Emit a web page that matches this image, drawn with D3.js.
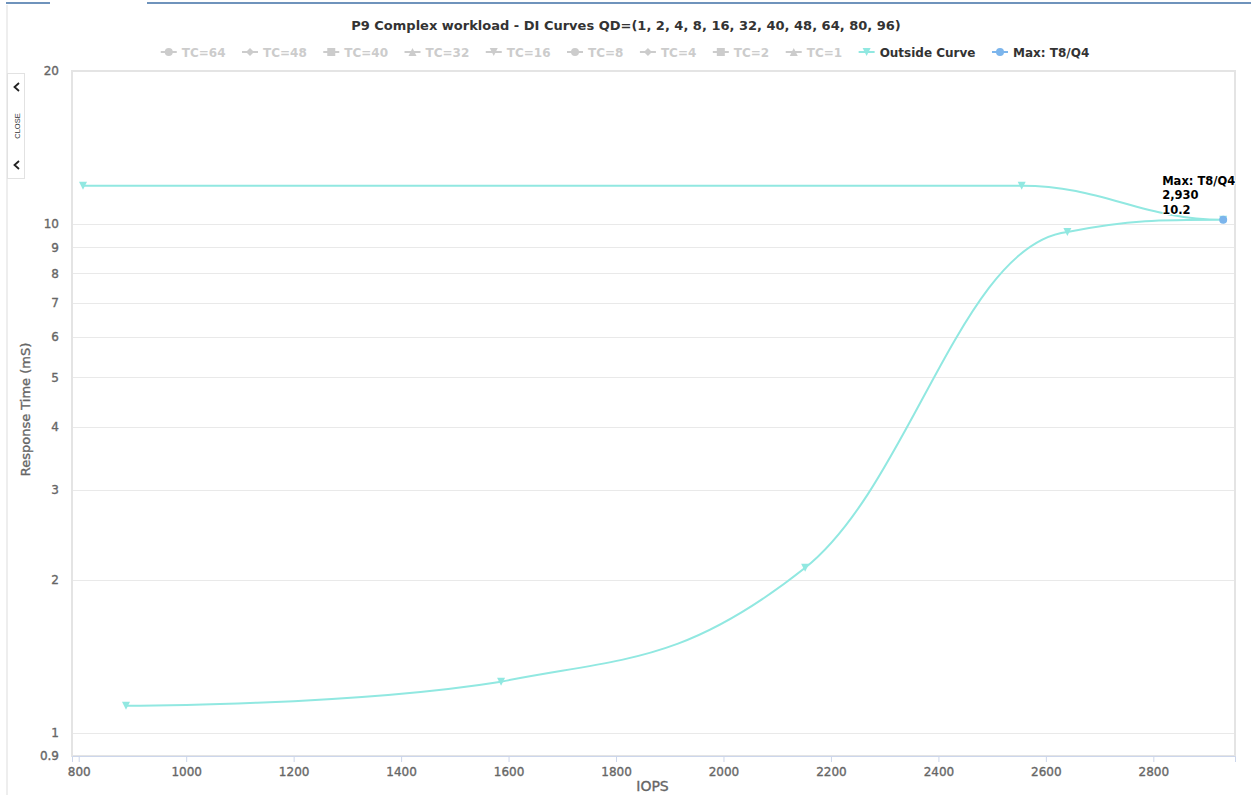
<!DOCTYPE html>
<html>
<head>
<meta charset="utf-8">
<script src="https://cdn.jsdelivr.net/npm/d3@7/dist/d3.min.js"></script>
<style>
  html, body { margin: 0; padding: 0; background: #fff; overflow: hidden; }
  svg { display: block; font-family: "DejaVu Sans", Verdana, sans-serif; }
</style>
</head>
<body>
<svg id="chart" width="1251" height="795"></svg>
<script>
// ---- data ----
const chartTitle = "P9 Complex workload - DI Curves QD=(1, 2, 4, 8, 16, 32, 40, 48, 64, 80, 96)";
const seriesNames = ["TC=64", "TC=48", "TC=40", "TC=32", "TC=16", "TC=8", "TC=4", "TC=2", "TC=1", "Outside Curve", "Max: T8/Q4"];
const seriesVisible = [false, false, false, false, false, false, false, false, false, true, true];
const outsideIOPS = [888, 1586, 2152, 2640, 2930, 2555, 808];
const outsideRT   = [1.13, 1.26, 2.11, 9.65, 10.2, 11.9, 11.9];
const maxIOPS = [2930];
const maxRT   = [10.2];
const maxName = "Max: T8/Q4";
const xTicks = [800, 1000, 1200, 1400, 1600, 1800, 2000, 2200, 2400, 2600, 2800];
const yTicks = [0.9, 1, 2, 3, 4, 5, 6, 7, 8, 9, 10, 20];
const xTitle = "IOPS";
const yTitle = "Response Time (mS)";

// ---- look ----
const palette = ["#7cb5ec", "#434348", "#90ed7d", "#f7a35c", "#8085e9", "#f15c80", "#e4d354", "#2b908f", "#f45b5b", "#91e8e1"];
const symbolCycle = ["circle", "diamond", "square", "triangle", "triangle-down"];
const hiddenColor = "#cccccc";
const axisText = "#666666";

const W = 1251, H = 795;
const plot = { left: 72, top: 71, right: 1235, bottom: 756 };

const svg = d3.select("#chart");

const x = d3.scaleLinear().domain([787.5, 2952]).range([plot.left, plot.right]);
const y = d3.scaleLog().domain([0.9, 20]).range([plot.bottom, plot.top]);

// slightly heavier strokes for axis text
function heavy(sel, col) {
  return sel.attr("fill", col).attr("stroke", col).attr("stroke-width", 0.35);
}

// ---- page frame: tab strip and side panel ----
svg.append("line").attr("x1", 6).attr("x2", 50).attr("y1", 3).attr("y2", 3)
  .attr("stroke", "#3f6fa6").attr("stroke-width", 1.5);
svg.append("line").attr("x1", 147).attr("x2", W).attr("y1", 3).attr("y2", 3)
  .attr("stroke", "#3f6fa6").attr("stroke-width", 1.5);
svg.append("line").attr("x1", 7).attr("x2", 7).attr("y1", 5).attr("y2", H)
  .attr("stroke", "#dddddd").attr("stroke-width", 1);

const side = svg.append("g");
side.append("rect").attr("x", 7.5).attr("y", 73.5).attr("width", 17).attr("height", 105)
  .attr("fill", "#fff").attr("stroke", "#e2e2e2");
[87, 165].forEach(cy => {
  side.append("path").attr("d", `M19,${cy - 4} L14.5,${cy} L19,${cy + 4}`)
    .attr("fill", "none").attr("stroke", "#222").attr("stroke-width", 1.8);
});
side.append("text").attr("transform", "translate(19.5,126) rotate(-90)")
  .attr("text-anchor", "middle").attr("font-size", 7.5).attr("fill", "#333")
  .attr("font-family", "Liberation Sans, Arial, sans-serif").text("CLOSE");

// ---- title ----
svg.append("text").attr("x", 626).attr("y", 30).attr("text-anchor", "middle")
  .attr("font-size", 13).attr("font-weight", "bold").attr("fill", "#333333")
  .text(chartTitle);

// ---- grid and plot frame ----
const grid = svg.append("g");
grid.selectAll("line").data(yTicks).join("line")
  .attr("x1", plot.left).attr("x2", plot.right)
  .attr("y1", d => Math.round(y(d)) + 0.5).attr("y2", d => Math.round(y(d)) + 0.5)
  .attr("stroke", "#e9e9e9").attr("stroke-width", 1);

svg.append("rect")
  .attr("x", plot.left).attr("y", plot.top)
  .attr("width", plot.right - plot.left).attr("height", plot.bottom - plot.top)
  .attr("fill", "none").attr("stroke", "#e4e4e4").attr("stroke-width", 2);

// ---- axes ----
const xAxis = svg.append("g").attr("transform", `translate(0,${plot.bottom})`)
  .call(d3.axisBottom(x).tickValues(xTicks).tickFormat(d3.format("d")).tickSize(6).tickPadding(5));
xAxis.select(".domain").attr("stroke", "#ccd6eb");
xAxis.selectAll(".tick line").attr("stroke", "#ccd6eb");
heavy(xAxis.selectAll(".tick text"), axisText).attr("font-size", 12)
  .attr("font-family", "DejaVu Sans, Verdana, sans-serif");

const yAxis = svg.append("g").attr("transform", `translate(${plot.left},0)`)
  .call(d3.axisLeft(y).tickValues(yTicks).tickFormat(d => String(d)).tickSize(0).tickPadding(13));
yAxis.select(".domain").remove();
heavy(yAxis.selectAll(".tick text"), axisText).attr("font-size", 12)
  .attr("font-family", "DejaVu Sans, Verdana, sans-serif");

heavy(svg.append("text"), axisText).attr("x", (plot.left + plot.right) / 2 - 1).attr("y", 791)
  .attr("text-anchor", "middle").attr("font-size", 14).text(xTitle);
heavy(svg.append("text"), axisText)
  .attr("transform", `translate(30,${(plot.top + plot.bottom) / 2 - 4}) rotate(-90)`)
  .attr("text-anchor", "middle").attr("font-size", 13).text(yTitle);

// ---- marker shapes ----
function symbolPath(type, cx, cy, r) {
  const x0 = cx - r, y0 = cy - r, w = 2 * r, h = 2 * r;
  switch (type) {
    case "circle":
      return `M${cx - r},${cy} a${r},${r} 0 1,0 ${w},0 a${r},${r} 0 1,0 ${-w},0 Z`;
    case "diamond":
      return `M${cx},${y0} L${x0 + w},${cy} L${cx},${y0 + h} L${x0},${cy} Z`;
    case "square":
      return `M${x0},${y0} L${x0 + w},${y0} L${x0 + w},${y0 + h} L${x0},${y0 + h} Z`;
    case "triangle":
      return `M${cx},${y0} L${x0 + w},${y0 + h} L${x0},${y0 + h} Z`;
    case "triangle-down":
      return `M${x0},${y0} L${x0 + w},${y0} L${cx},${y0 + h} Z`;
  }
}

// ---- spline through points (smoothing 1.5, control points kept level at extremes) ----
function splinePath(pts) {
  const sm = 1.5, den = sm + 1;
  const rightCont = [];
  let d = "";
  pts.forEach((p, i) => {
    if (i === 0) { d += `M${p[0]},${p[1]}`; return; }
    const last = pts[i - 1], next = pts[i + 1];
    let lcx = p[0], lcy = p[1];
    if (next) {
      lcx = (sm * p[0] + last[0]) / den;
      lcy = (sm * p[1] + last[1]) / den;
      const rcx = (sm * p[0] + next[0]) / den;
      let rcy = (sm * p[1] + next[1]) / den;
      let corr = 0;
      if (rcx !== lcx) corr = ((rcy - lcy) * (rcx - p[0])) / (rcx - lcx) + p[1] - rcy;
      lcy += corr; rcy += corr;
      if (lcy > last[1] && lcy > p[1]) { lcy = Math.max(last[1], p[1]); rcy = 2 * p[1] - lcy; }
      else if (lcy < last[1] && lcy < p[1]) { lcy = Math.min(last[1], p[1]); rcy = 2 * p[1] - lcy; }
      if (rcy > next[1] && rcy > p[1]) { rcy = Math.max(next[1], p[1]); lcy = 2 * p[1] - rcy; }
      else if (rcy < next[1] && rcy < p[1]) { rcy = Math.min(next[1], p[1]); lcy = 2 * p[1] - rcy; }
      rightCont[i] = [rcx, rcy];
    }
    const c1 = rightCont[i - 1] || last;
    d += `C${c1[0]},${c1[1]} ${lcx},${lcy} ${p[0]},${p[1]}`;
  });
  return d;
}

// ---- Outside Curve series ----
const outsideColor = palette[9 % palette.length];
const outsidePts = outsideIOPS.map((v, i) => [x(v), y(outsideRT[i])]);
svg.append("path").attr("d", splinePath(outsidePts))
  .attr("fill", "none").attr("stroke", outsideColor).attr("stroke-width", 2)
  .attr("stroke-linejoin", "round").attr("stroke-linecap", "round");
svg.append("g").selectAll("path").data(outsidePts).join("path")
  .attr("d", p => symbolPath(symbolCycle[9 % 5], p[0], p[1], 4))
  .attr("fill", outsideColor);

// ---- Max series ----
const maxColor = palette[10 % palette.length];
svg.append("g").selectAll("path").data(maxIOPS.map((v, i) => [x(v), y(maxRT[i])])).join("path")
  .attr("d", p => symbolPath(symbolCycle[10 % 5], p[0], p[1], 4))
  .attr("fill", maxColor);

// data label for the max point
const fmtThousands = d3.format(",");
maxIOPS.forEach((v, i) => {
  const px = x(v), py = y(maxRT[i]);
  const lines = [maxName, fmtThousands(v), String(maxRT[i])];
  const t = svg.append("text").attr("font-size", 11.5).attr("font-weight", "bold").attr("fill", "#000")
    .attr("stroke", "#fff").attr("stroke-width", 2).attr("paint-order", "stroke")
    .attr("stroke-linejoin", "round");
  lines.forEach((s, k) => {
    t.append("tspan").attr("x", px - 61).attr("y", py - 35 + k * 14.5).text(s);
  });
});

// ---- legend ----
const legend = svg.append("g");
const itemDist = 16.5, symW = 16, symPad = 5;
const items = seriesNames.map((name, i) => {
  const tmp = legend.append("text").attr("font-size", 12).attr("font-weight", "bold").text(name);
  const w = tmp.node().getComputedTextLength();
  tmp.remove();
  return { name, i, w };
});
const total = d3.sum(items, d => symW + symPad + d.w) + itemDist * (items.length - 1);
let cursor = 625 - total / 2;
const legendY = 52;
items.forEach(it => {
  const visible = seriesVisible[it.i];
  const col = visible ? palette[it.i % palette.length] : hiddenColor;
  const g = legend.append("g");
  g.append("line").attr("x1", cursor).attr("x2", cursor + symW)
    .attr("y1", legendY).attr("y2", legendY).attr("stroke", col).attr("stroke-width", 2);
  g.append("path").attr("d", symbolPath(symbolCycle[it.i % 5], cursor + symW / 2, legendY, 4)).attr("fill", col);
  g.append("text").attr("x", cursor + symW + symPad).attr("y", legendY + 4.5)
    .attr("font-size", 12).attr("font-weight", "bold")
    .attr("fill", visible ? "#333333" : hiddenColor).text(it.name);
  cursor += symW + symPad + it.w + itemDist;
});
</script>
</body>
</html>
